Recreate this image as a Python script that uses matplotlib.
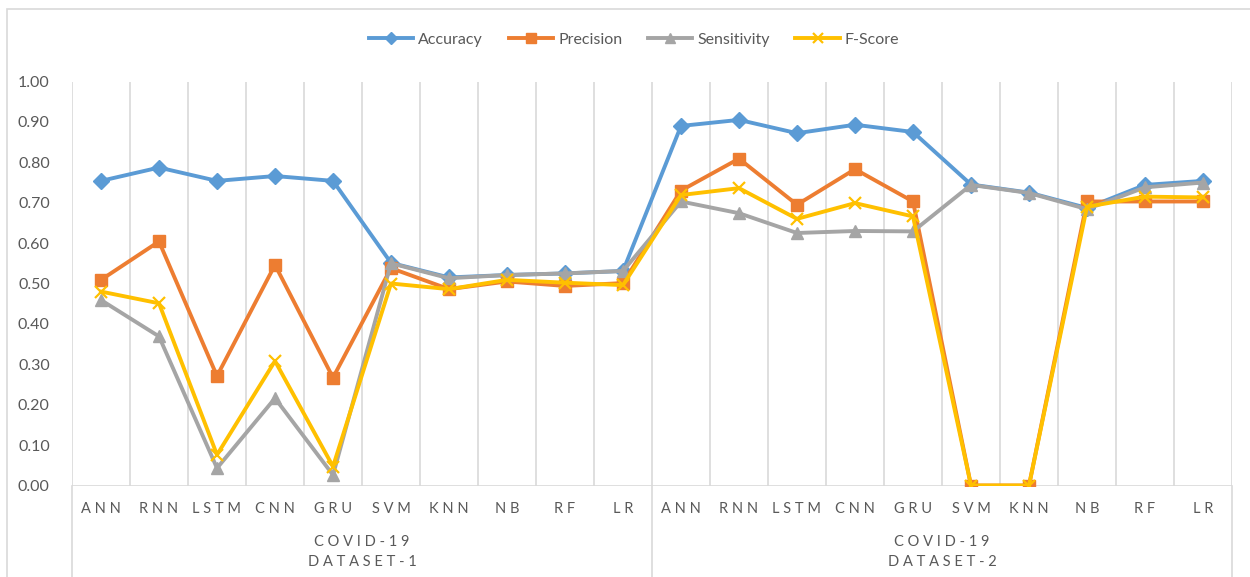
import matplotlib
matplotlib.use("Agg")
import matplotlib.pyplot as plt
import matplotlib.transforms as mtransforms
from matplotlib.patches import Rectangle

plt.rcParams["font.family"] = ["Lato", "DejaVu Sans"]

models = ["ANN", "RNN", "LSTM", "CNN", "GRU", "SVM", "KNN", "NB", "RF", "LR"]
groups = ["COVID-19\nDATASET-1", "COVID-19\nDATASET-2"]

accuracy = [0.754, 0.787, 0.754, 0.766, 0.754, 0.551, 0.515, 0.521, 0.525, 0.531,
            0.890, 0.905, 0.872, 0.893, 0.875, 0.745, 0.725, 0.687, 0.744, 0.754]
precision = [0.509, 0.604, 0.271, 0.546, 0.267, 0.538, 0.486, 0.505, 0.494, 0.501,
             0.730, 0.809, 0.695, 0.783, 0.703, 0.000, 0.000, 0.703, 0.703, 0.703]
sensitivity = [0.459, 0.369, 0.043, 0.216, 0.026, 0.550, 0.513, 0.521, 0.525, 0.531,
               0.703, 0.674, 0.625, 0.630, 0.629, 0.744, 0.724, 0.684, 0.738, 0.750]
fscore = [0.480, 0.451, 0.076, 0.308, 0.047, 0.500, 0.486, 0.509, 0.502, 0.496,
          0.719, 0.736, 0.660, 0.699, 0.666, 0.000, 0.000, 0.690, 0.715, 0.713]

yticks = [0.0, 0.1, 0.2, 0.3, 0.4, 0.5, 0.6, 0.7, 0.8, 0.9, 1.0]

txt = "#595959"
grid = "#D9D9D9"

fig = plt.figure(figsize=(12.5, 5.77), dpi=100)
ax = fig.add_axes([72 / 1250, 1 - 485.5 / 577, 1160 / 1250, 404 / 577])

# outer chart frame
fig.patches.append(Rectangle((7 / 1250, -0.01), 1.2, 1 - 9 / 577 + 0.01,
                             transform=fig.transFigure, fill=False,
                             edgecolor=grid, linewidth=1.2))

labels = models + models
x = list(range(len(labels)))

lw = 2.8
ax.plot(x, accuracy, color="#5B9BD5", lw=lw, marker="D", ms=8, label="Accuracy")
ax.plot(x, precision, color="#ED7D31", lw=lw, marker="s", ms=9, label="Precision")
ax.plot(x, sensitivity, color="#A5A5A5", lw=lw, marker="^", ms=9, label="Sensitivity")
ax.plot(x, fscore, color="#FFC000", lw=lw, marker="x", ms=9, mew=1.6, label="F-Score")

ax.set_xlim(-0.5, len(labels) - 0.5)
ax.set_ylim(0, 1)

# vertical gridlines between categories
for b in range(len(labels) + 1):
    ax.axvline(b - 0.5, color=grid, lw=1.2, zorder=0)
ax.axhline(0, color=grid, lw=1.2, zorder=0)

for s in ax.spines.values():
    s.set_visible(False)

ax.set_yticks(yticks)
ax.set_yticklabels([f"{v:.2f}" for v in yticks], fontsize=11.5, color=txt)
ax.tick_params(axis="y", length=0, pad=16)
ax.set_xticks(x)
ax.set_xticklabels([" ".join(l) for l in labels], fontsize=10.5, color=txt)
ax.tick_params(axis="x", length=0, pad=12)

# multi-level category axis
trans = mtransforms.blended_transform_factory(ax.transData, ax.transAxes)
for b in [-0.5, 9.5, 19.5]:
    ax.plot([b, b], [0, -0.23], color=grid, lw=1.2, transform=trans, clip_on=False)
for i, g in enumerate(groups):
    cx = i * 10 + 4.5
    for j, line in enumerate(g.split("\n")):
        ax.text(cx, -0.14 - j * 0.05, " ".join(line), transform=trans,
                ha="center", va="center", fontsize=10.5, color=txt)

fig.legend(loc="center", bbox_to_anchor=(634 / 1250, 1 - 40 / 577), ncol=4,
           frameon=False, fontsize=11.5, labelcolor=txt, handlelength=2.8,
           handletextpad=0.3, columnspacing=1.6, markerscale=0.8)

fig.savefig("out.png", dpi=100)
